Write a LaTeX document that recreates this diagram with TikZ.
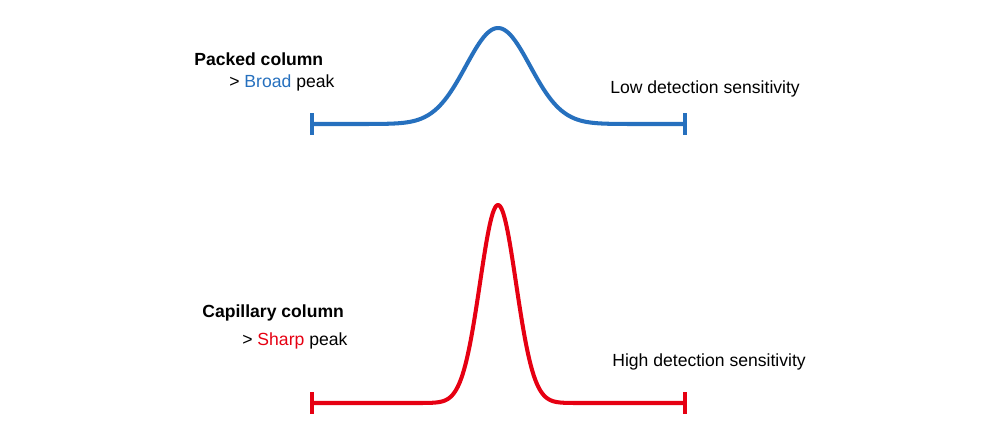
\documentclass[tikz,border=0pt]{standalone}
\usepackage{fontspec}
\setmainfont{Liberation Sans}
\definecolor{peakblue}{HTML}{2670BE}
\definecolor{peakred}{HTML}{E60012}

\begin{document}
\begin{tikzpicture}[x=0.02cm,y=-0.02cm]
\tikzstyle{label}=[anchor=west,inner sep=0pt,font=\fontsize{10pt}{12pt}\selectfont]
\tikzstyle{trace}=[line width=2.3pt,line join=round]
\tikzstyle{tick}=[line width=2.3pt]
\useasboundingbox (0,0) rectangle (1000,444);

% packed column
\node[label,font=\fontsize{10pt}{12pt}\selectfont\bfseries](packed) at (194,59) {Packed column};
\node[label](broad) at (229,83) {> \textcolor{peakblue}{Broad} peak};
\node[label](low) at (610,89) {Low detection sensitivity};
\coordinate (bl) at (312,124);
\coordinate (br) at (685,124);
\draw[trace,peakblue] (bl) -- (338,124)
  plot[domain=338:658,samples=160] (\x,{124-96*exp(-((\x-498)/32)^2/2)})
  -- (br);
\draw[tick,peakblue] ([yshift=0.22cm]bl) -- ([yshift=-0.22cm]bl);
\draw[tick,peakblue] ([yshift=0.22cm]br) -- ([yshift=-0.22cm]br);

% capillary column
\node[label,font=\fontsize{10pt}{12pt}\selectfont\bfseries](capillary) at (202,313) {Capillary column};
\node[label](sharp) at (242,341) {> \textcolor{peakred}{Sharp} peak};
\node[label](high) at (612,362) {High detection sensitivity};
\coordinate (rl) at (312,403);
\coordinate (rr) at (685,403);
\draw[trace,peakred] (rl) -- (408,403)
  plot[domain=408:588,samples=160] (\x,{403-198*exp(-((\x-498)/18)^2/2)})
  -- (rr);
\draw[tick,peakred] ([yshift=0.22cm]rl) -- ([yshift=-0.22cm]rl);
\draw[tick,peakred] ([yshift=0.22cm]rr) -- ([yshift=-0.22cm]rr);
\end{tikzpicture}
\end{document}
